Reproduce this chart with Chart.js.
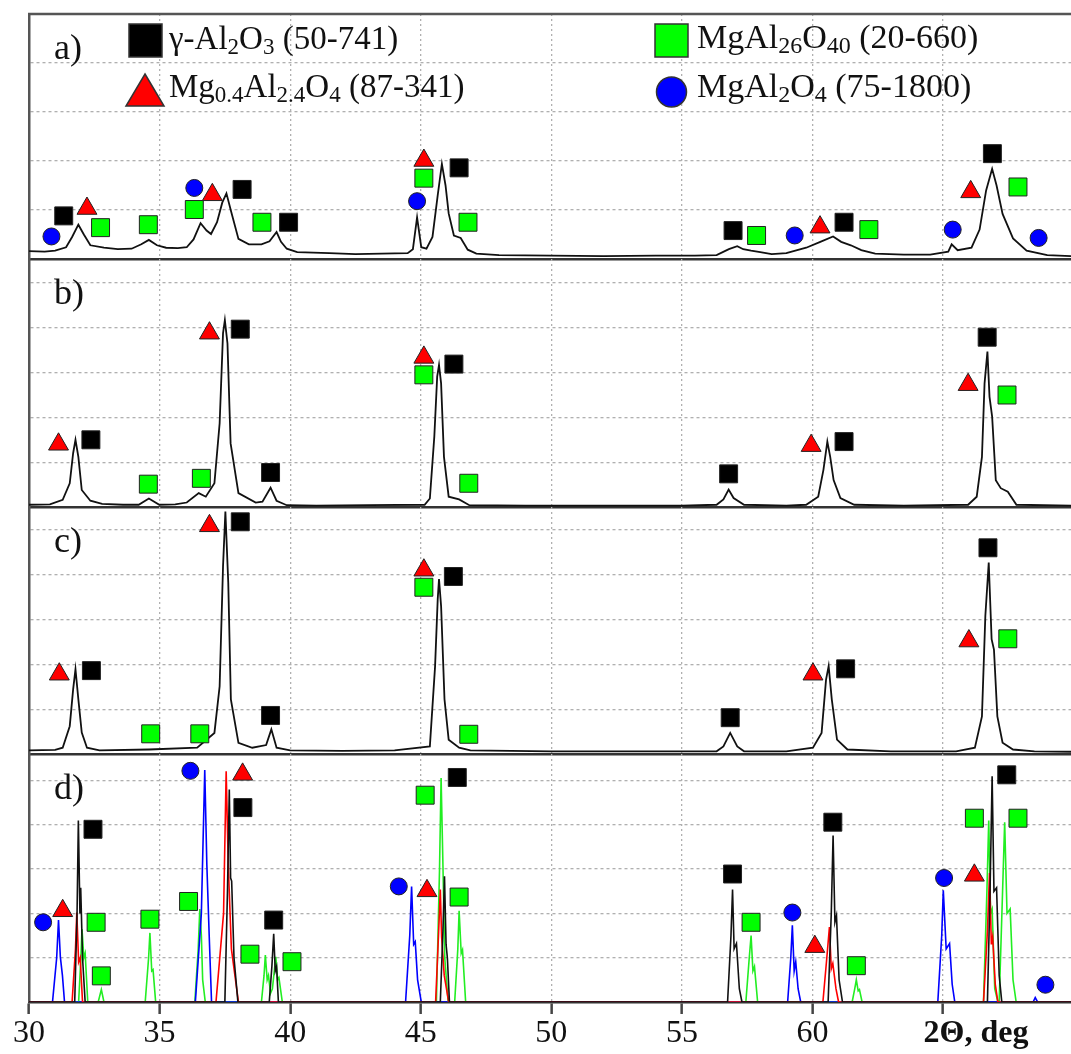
<!DOCTYPE html>
<html>
<head>
<meta charset="utf-8">
<script src="https://cdn.jsdelivr.net/npm/chart.js@4.4.1/dist/chart.umd.min.js"></script>
<style>
  html, body { margin: 0; padding: 0; background: #fff; }
  #wrap { position: relative; width: 1071px; height: 1054px; overflow: hidden; }
  #wrap canvas { position: absolute; left: 0; top: 0; }
</style>
</head>
<body>
<div id="wrap">
  <canvas id="pa" width="1071" height="1054"></canvas>
  <canvas id="pb" width="1071" height="1054"></canvas>
  <canvas id="pc" width="1071" height="1054"></canvas>
  <canvas id="pd" width="1071" height="1054"></canvas>
</div>
<script>
// x axis (2 theta, deg)
const xTicks = [30, 35, 40, 45, 50, 55, 60, 65];

// a) measured pattern
const traceA = [[30.0,0.16],[30.6,0.15],[31.0,0.17],[31.42,0.24],[31.65,0.45],[31.89,0.70],[32.1,0.5],[32.35,0.28],[32.87,0.23],[33.4,0.2],[33.93,0.21],[34.3,0.3],[34.59,0.39],[34.9,0.28],[35.25,0.23],[35.7,0.22],[36.04,0.24],[36.3,0.4],[36.57,0.73],[36.8,0.58],[36.97,0.51],[37.2,0.75],[37.4,1.15],[37.56,1.34],[37.75,0.95],[38.02,0.41],[38.42,0.3],[38.9,0.3],[39.21,0.36],[39.48,0.55],[39.65,0.35],[39.87,0.21],[40.27,0.14],[41.5,0.12],[42.5,0.1],[43.5,0.11],[44.5,0.12],[44.7,0.2],[44.86,0.85],[45.02,0.24],[45.22,0.21],[45.45,0.45],[45.65,1.3],[45.81,1.94],[45.95,1.5],[46.07,0.93],[46.27,0.48],[46.53,0.43],[46.8,0.19],[47.13,0.11],[48,0.08],[50,0.07],[52,0.06],[54,0.07],[55.5,0.07],[56.33,0.08],[56.8,0.2],[57.12,0.26],[57.35,0.2],[57.65,0.17],[58.0,0.14],[58.44,0.1],[59.0,0.12],[59.76,0.23],[60.3,0.35],[60.79,0.46],[61.1,0.35],[61.47,0.28],[61.87,0.18],[62.4,0.11],[63.5,0.09],[64.51,0.09],[65.2,0.15],[65.33,0.3],[65.56,0.18],[66.09,0.23],[66.4,0.6],[66.65,1.4],[66.88,1.84],[67.05,1.5],[67.28,0.92],[67.68,0.42],[68.2,0.17],[68.99,0.08],[69.9,0.06]];
// b) measured pattern
const traceB = [[30,0.05],[30.8,0.06],[31.29,0.16],[31.56,0.53],[31.69,1.2],[31.78,1.5],[31.89,1.12],[32.02,0.38],[32.35,0.14],[32.8,0.07],[33.6,0.05],[34.2,0.05],[34.59,0.19],[34.99,0.05],[35.6,0.06],[36.04,0.1],[36.5,0.31],[36.77,0.23],[37.1,0.53],[37.3,1.87],[37.43,3.88],[37.5,4.17],[37.6,3.65],[37.72,1.42],[38.02,0.31],[38.68,0.1],[38.94,0.12],[39.25,0.43],[39.48,0.14],[39.87,0.04],[41,0.03],[43,0.04],[45.15,0.05],[45.35,0.19],[45.52,1.57],[45.63,2.91],[45.7,3.17],[45.78,2.76],[45.89,1.12],[46.07,0.23],[46.47,0.17],[46.86,0.04],[49,0.03],[52,0.03],[55,0.03],[56.33,0.05],[56.59,0.17],[56.79,0.39],[56.98,0.2],[57.38,0.05],[59,0.03],[59.76,0.05],[60.22,0.23],[60.42,0.83],[60.57,1.46],[60.68,1.12],[60.81,0.6],[61.07,0.2],[61.6,0.05],[63.5,0.03],[65.96,0.05],[66.29,0.23],[66.49,1.12],[66.59,2.76],[66.7,3.47],[66.78,2.46],[66.88,2.02],[67.02,0.6],[67.21,0.42],[67.48,0.34],[67.81,0.05],[69.9,0.03]];
// c) measured pattern
const traceC = [[30,0.08],[31,0.09],[31.29,0.14],[31.56,0.62],[31.69,1.44],[31.78,1.89],[31.89,1.22],[32.02,0.48],[32.22,0.14],[32.7,0.08],[34.6,0.1],[36.44,0.14],[37.1,0.47],[37.3,1.51],[37.43,4.19],[37.52,5.41],[37.63,3.82],[37.73,1.22],[38.02,0.25],[38.55,0.14],[39.08,0.2],[39.28,0.55],[39.48,0.14],[40,0.08],[42,0.07],[44,0.08],[45.35,0.17],[45.55,1.96],[45.65,3.45],[45.7,3.9],[45.78,3.3],[45.91,1.22],[46.07,0.32],[46.47,0.14],[46.9,0.08],[50,0.06],[54,0.06],[56.33,0.06],[56.59,0.17],[56.85,0.47],[57.12,0.17],[57.38,0.06],[59,0.06],[60.02,0.14],[60.35,0.47],[60.52,1.66],[60.62,1.96],[60.74,1.22],[60.94,0.32],[61.34,0.1],[63,0.06],[65.5,0.06],[66.22,0.14],[66.49,0.84],[66.62,3.08],[66.75,4.27],[66.86,2.56],[66.95,2.33],[67.08,0.84],[67.28,0.25],[67.68,0.1],[68.5,0.06],[69.9,0.05]];

// d) reference patterns
const refBlue = [[30,0],[30.9,0],[31.06,1.0],[31.13,1.85],[31.2,1.02],[31.28,0.6],[31.36,0],[36.37,0],[36.6,2.0],[36.73,5.24],[36.81,3.1],[36.9,1.5],[36.99,0],[44.42,0],[44.58,1.5],[44.65,2.61],[44.73,1.3],[44.79,1.36],[44.88,0.5],[45.02,0],[59.05,0],[59.17,1.0],[59.23,1.73],[59.3,0.7],[59.36,0.91],[59.45,0.3],[59.55,0],[64.8,0],[64.95,1.5],[65.01,2.52],[65.12,1.2],[65.25,1.32],[65.35,0.4],[65.45,0],[68.45,0],[68.53,0.1],[68.62,0],[69.9,0]];
const refRed = [[30,0],[31.65,0],[31.78,1.2],[31.83,2.02],[31.9,0.9],[31.96,1.0],[32.05,0],[37.16,0],[37.45,2.0],[37.55,5.21],[37.63,3.1],[37.75,1.2],[38.02,0],[45.57,0],[45.68,1.5],[45.75,2.54],[45.8,1.47],[45.9,0.6],[46.07,0],[60.4,0],[60.55,1.0],[60.65,1.69],[60.72,0.75],[60.78,0.87],[60.9,0.3],[61.0,0],[66.55,0],[66.7,1.6],[66.78,2.91],[66.85,1.3],[66.9,1.47],[67.0,0.4],[67.1,0],[69.9,0]];
const refGreen = [[30,0],[31.9,0],[31.98,0.9],[32.03,1.65],[32.1,1.0],[32.15,1.1],[32.25,0],[32.65,0],[32.77,0.28],[32.87,0],[34.45,0],[34.58,1.0],[34.63,1.56],[34.7,0.7],[34.75,0.73],[34.85,0],[36.35,0],[36.48,1.2],[36.54,2.1],[36.6,1.5],[36.65,0.5],[36.75,0],[38.9,0],[39.0,0.6],[39.05,1.06],[39.12,0.5],[39.17,0.6],[39.25,0.2],[39.32,0.3],[39.45,1.02],[39.52,0.5],[39.57,0.55],[39.7,0],[45.6,0],[45.72,3.0],[45.78,5.06],[45.85,3.1],[45.92,1.0],[46.05,0],[46.3,0],[46.42,1.2],[46.47,2.06],[46.55,1.1],[46.6,1.18],[46.72,0],[57.45,0],[57.58,1.0],[57.65,1.5],[57.72,0.7],[57.78,0.8],[57.9,0],[61.52,0],[61.62,0.3],[61.68,0.5],[61.75,0.25],[61.8,0.28],[61.9,0],[66.55,0],[66.68,2.5],[66.75,4.1],[66.82,2.0],[66.88,2.1],[66.98,0.3],[67.1,0],[67.15,0],[67.28,2.5],[67.36,4.06],[67.45,2.0],[67.57,2.1],[67.68,0.5],[67.8,0],[69.9,0]];
const refBlack = [[30,0],[31.75,0],[31.84,2.0],[31.89,4.1],[31.95,2.0],[31.98,2.58],[32.05,1.0],[32.15,0],[37.5,0],[37.6,2.5],[37.67,4.8],[37.72,2.8],[37.76,2.73],[37.85,1.0],[38.0,0],[39.2,0],[39.3,0.8],[39.37,1.54],[39.43,0.7],[39.48,0.8],[39.55,0],[45.75,0],[45.85,1.6],[45.91,2.84],[45.97,1.3],[46.02,1.0],[46.1,0],[56.75,0],[56.88,1.5],[56.94,2.54],[57.0,1.2],[57.09,1.32],[57.2,0.3],[57.3,0],[60.6,0],[60.72,2.0],[60.79,3.76],[60.86,1.8],[60.92,1.95],[61.02,0.5],[61.15,0],[66.7,0],[66.8,2.5],[66.88,5.1],[66.95,2.5],[67.05,2.58],[67.15,0.6],[67.25,0],[69.9,0]];

// phase markers: black square = g-Al2O3, red triangle = Mg0.4Al2.4O4,
// green square = MgAl26O40, blue circle = MgAl2O4
const sqA = [[31.33,0.88],[38.16,1.42],[39.94,0.75],[46.47,1.86],[56.96,0.58],[61.21,0.75],[66.89,2.15]];
const triA = [[32.22,1.03],[37.02,1.31],[45.12,2.01],[60.29,0.65],[66.06,1.37]];
const grA = [[32.74,0.64],[34.57,0.70],[36.33,1.01],[38.92,0.75],[45.12,1.65],[46.81,0.75],[57.86,0.48],[62.16,0.6],[67.87,1.47]];
const ciA = [[30.86,0.46],[36.33,1.45],[44.86,1.18],[59.32,0.48],[65.37,0.6],[68.66,0.43]];

const sqB = [[32.37,1.5],[38.09,3.97],[39.25,0.77],[46.27,3.19],[56.79,0.74],[61.21,1.46],[66.69,3.79]];
const triB = [[31.13,1.40],[36.91,3.88],[45.12,3.34],[59.95,1.37],[65.96,2.73]];
const grB = [[34.57,0.51],[36.6,0.64],[45.12,2.95],[46.84,0.53],[67.45,2.5]];

const sqC = [[32.39,1.86],[38.09,5.18],[39.25,0.86],[46.25,3.96],[56.85,0.81],[61.27,1.9],[66.72,4.6]];
const triC = [[31.16,1.78],[36.91,5.09],[45.12,4.1],[60.02,1.78],[65.99,2.52]];
const grC = [[34.66,0.45],[36.54,0.45],[45.12,3.72],[46.84,0.44],[67.48,2.57]];

const sqD = [[32.45,3.9],[38.19,4.39],[39.37,1.85],[46.4,5.07],[56.94,2.89],[60.78,4.06],[67.44,5.13]];
const triD = [[31.29,2.06],[38.18,5.14],[45.24,2.51],[60.09,1.25],[66.2,2.86]];
const grD = [[32.57,1.8],[32.77,0.59],[34.63,1.87],[36.11,2.27],[38.46,1.08],[40.07,0.91],[45.17,4.67],[46.47,2.37],[57.65,1.8],[61.68,0.82],[66.2,4.15],[67.87,4.15]];
const ciD = [[30.54,1.8],[36.18,5.22],[44.16,2.61],[59.23,2.02],[65.04,2.8],[68.92,0.39]];

const SERIF = "'Liberation Serif', 'Times New Roman', serif";
const pts = arr => arr.map(([x, y]) => ({ x, y }));

function line(arr, color, order, width) {
  return { data: pts(arr), borderColor: color, borderWidth: width || 1.8, pointRadius: 0,
           tension: 0, fill: false, order: order };
}
function marks(arr, style, color) {
  const r = style === 'rect' ? 12.7 : style === 'triangle' ? 11.5 : 8.5;
  return { data: pts(arr), showLine: false, pointStyle: style, pointRadius: r,
           backgroundColor: color, borderColor: '#222', borderWidth: 1, order: 0, clip: false };
}

// write text with subscripts; parts given as strings or [subscript]
function richText(ctx, parts, x, y, size) {
  parts.forEach(p => {
    const sub = Array.isArray(p);
    const t = sub ? p[0] : p;
    ctx.font = (sub ? Math.round(size * 0.7) : size) + 'px ' + SERIF;
    ctx.fillText(t, x, sub ? y + size * 0.15 : y);
    x += ctx.measureText(t).width;
  });
}

const framePlugin = {
  id: 'frame',
  afterDraw(chart, args, opts) {
    const { ctx, chartArea: ca } = chart;
    ctx.save();
    if (opts.topLine) {
      ctx.strokeStyle = '#555';
      ctx.lineWidth = 2.5;
      ctx.beginPath();
      ctx.moveTo(ca.left - 1, ca.top);
      ctx.lineTo(ca.right, ca.top);
      ctx.stroke();
    }
    ctx.fillStyle = '#111';
    ctx.textBaseline = 'alphabetic';
    ctx.font = '36px ' + SERIF;
    ctx.fillText(opts.label, 54, ca.top + 45);
    if (opts.axisTitle) {
      ctx.font = 'bold 32px ' + SERIF;
      ctx.textAlign = 'center';
      ctx.textBaseline = 'middle';
      ctx.fillText('2\u0398, deg', 976, ca.bottom + 32);
    }
    ctx.restore();
  }
};

const legendPlugin = {
  id: 'phaseLegend',
  afterDraw(chart) {
    const ctx = chart.ctx;
    ctx.save();
    ctx.strokeStyle = '#333';
    ctx.lineWidth = 1.5;
    // black square
    ctx.fillStyle = '#000';
    ctx.fillRect(129, 24, 33, 33); ctx.strokeRect(129, 24, 33, 33);
    // red triangle
    ctx.fillStyle = '#ff0000';
    ctx.beginPath(); ctx.moveTo(145, 74); ctx.lineTo(164, 106); ctx.lineTo(126, 106); ctx.closePath();
    ctx.fill(); ctx.stroke();
    // green square
    ctx.fillStyle = '#00ff00';
    ctx.fillRect(655, 24, 33, 33); ctx.strokeRect(655, 24, 33, 33);
    // blue circle
    ctx.fillStyle = '#0000ff';
    ctx.beginPath(); ctx.arc(671.5, 92, 15, 0, Math.PI * 2); ctx.fill(); ctx.stroke();

    ctx.fillStyle = '#111';
    ctx.textBaseline = 'alphabetic';
    richText(ctx, ['\u03b3-Al', ['2'], 'O', ['3'], ' (50-741)'], 169, 49, 33);
    richText(ctx, ['Mg', ['0.4'], 'Al', ['2.4'], 'O', ['4'], ' (87-341)'], 169, 97, 33);
    richText(ctx, ['MgAl', ['26'], 'O', ['40'], ' (20-660)'], 697, 48, 34);
    richText(ctx, ['MgAl', ['2'], 'O', ['4'], ' (75-1800)'], 697, 97, 34);
    ctx.restore();
  }
};

function panel(id, top, bottom, ymax, yTicks, datasets, label, extra) {
  const last = id === 'pd';
  return new Chart(document.getElementById(id), {
    type: 'line',
    data: { datasets: datasets },
    options: {
      responsive: false,
      animation: false,
      devicePixelRatio: 1,
      layout: { autoPadding: false,
                padding: { left: 29, right: 0, top: top, bottom: 1054 - bottom - (last ? 48 : 0) } },
      plugins: {
        legend: { display: false },
        tooltip: { enabled: false },
        frame: { label: label, topLine: id === 'pa', axisTitle: last }
      },
      scales: {
        x: {
          type: 'linear', min: 30, max: 69.9,
          afterBuildTicks: s => { s.ticks = xTicks.map(v => ({ value: v })); },
          grid: { color: '#b0b0b0', lineWidth: 1.3, drawTicks: last, tickLength: 12,
                  tickColor: '#444', tickWidth: 2.5, tickBorderDash: [] },
          border: { display: true, color: '#333', width: 2.5, dash: [2, 3] },
          ticks: { display: last, padding: 4, color: '#111', maxRotation: 0, autoSkip: false,
                   font: { family: SERIF, size: 32, lineHeight: 1 },
                   callback: v => (v === 65 ? '' : String(v)) }
        },
        y: {
          type: 'linear', min: 0, max: ymax,
          afterBuildTicks: s => { s.ticks = yTicks.map(v => ({ value: v })); },
          grid: { color: '#b0b0b0', lineWidth: 1.3, drawTicks: false },
          border: { display: true, color: '#555', width: 2.5, dash: [3, 3] },
          ticks: { display: false }
        }
      }
    },
    plugins: [framePlugin].concat(extra || [])
  });
}

panel('pa', 14, 259, 5, [1, 2, 3, 4], [
  marks(sqA, 'rect', '#000'), marks(triA, 'triangle', '#ff0000'),
  marks(grA, 'rect', '#00ff00'), marks(ciA, 'circle', '#0000ff'),
  line(traceA, '#111', 2)
], 'a)', [legendPlugin]);

panel('pb', 259, 507, 5.536, [1, 2, 3, 4, 5], [
  marks(sqB, 'rect', '#000'), marks(triB, 'triangle', '#ff0000'), marks(grB, 'rect', '#00ff00'),
  line(traceB, '#111', 2)
], 'b)');

panel('pc', 507, 754, 5.51, [1, 2, 3, 4, 5], [
  marks(sqC, 'rect', '#000'), marks(triC, 'triangle', '#ff0000'), marks(grC, 'rect', '#00ff00'),
  line(traceC, '#111', 2)
], 'c)');

panel('pd', 754, 1006, 5.6, [1, 2, 3, 4, 5], [
  marks(sqD, 'rect', '#000'), marks(triD, 'triangle', '#ff0000'),
  marks(grD, 'rect', '#00ff00'), marks(ciD, 'circle', '#0000ff'),
  line(refBlack, '#111', 1, 1.6), line(refRed, '#ff0000', 2, 1.6),
  line(refBlue, '#0000ff', 3, 1.6), line(refGreen, '#22ee22', 4, 1.6)
], 'd)');
</script>
</body>
</html>
